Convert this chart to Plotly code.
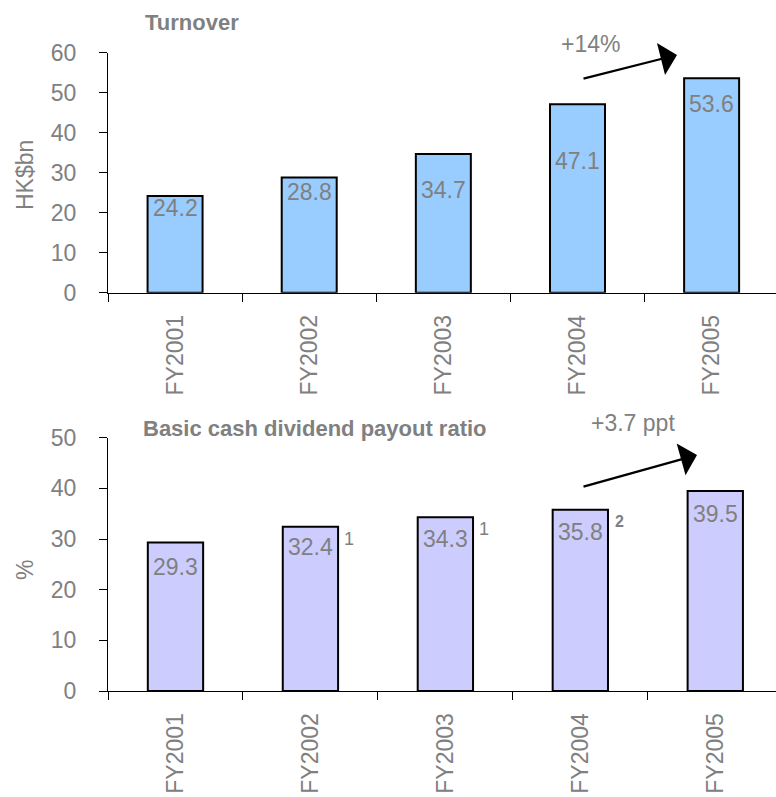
import plotly.graph_objects as go

categories = ["FY2001", "FY2002", "FY2003", "FY2004", "FY2005"]
turnover = [24.2, 28.8, 34.7, 47.1, 53.6]
payout = [29.3, 32.4, 34.3, 35.8, 39.5]
payout_notes = ["", "1", "1", "2", ""]
turnover_ticks = [0, 10, 20, 30, 40, 50, 60]
payout_ticks = [0, 10, 20, 30, 40, 50]

# label styling (pixel shifts below bar top)
turnover_label_shift = [12, 14, 36, 57, 26]
payout_label_shift = [24, 20, 22, 22, 23]

GRAY = "#808080"
FONT = "Arial, Liberation Sans, sans-serif"
W, H = 776, 797
L = 108

fig = go.Figure()
fig.add_trace(go.Bar(x=categories, y=turnover, xaxis="x", yaxis="y", width=0.41,
                     marker=dict(color="#99CCFF", line=dict(color="black", width=2)),
                     showlegend=False, hoverinfo="skip"))
fig.add_trace(go.Bar(x=categories, y=payout, xaxis="x2", yaxis="y2", width=0.41,
                     marker=dict(color="#CCCCFF", line=dict(color="black", width=2)),
                     showlegend=False, hoverinfo="skip"))

def py(px):
    return 1 - px / H

def pxx(px):
    return (px - L) / (W - L)

ann = []
for c, v, s in zip(categories, turnover, turnover_label_shift):
    ann.append(dict(x=c, y=v, xref="x", yref="y", text=f"{v:.1f}", showarrow=False,
                    xanchor="center", yanchor="middle", yshift=-s,
                    font=dict(size=23, color=GRAY, family=FONT)))
for c, v, s, n in zip(categories, payout, payout_label_shift, payout_notes):
    ann.append(dict(x=c, y=v, xref="x2", yref="y2", text=f"{v:.1f}", showarrow=False,
                    xanchor="center", yanchor="middle", yshift=-s,
                    font=dict(size=23, color=GRAY, family=FONT)))
    if n:
        bold = n == "2"
        txt = f"<b>{n}</b>" if bold else n
        ann.append(dict(x=c, y=v, xref="x2", yref="y2", text=txt, showarrow=False,
                        xanchor="center", yanchor="middle", xshift=39, yshift=-12,
                        font=dict(size=16 if bold else 18, color=GRAY, family=FONT)))

# titles
ann.append(dict(x=pxx(143), y=py(22), xref="paper", yref="paper", text="<b>Turnover</b>",
                showarrow=False, xanchor="left", yanchor="middle",
                font=dict(size=22, color=GRAY, family=FONT)))
ann.append(dict(x=pxx(141), y=py(429), xref="paper", yref="paper",
                text="<b>Basic cash dividend payout ratio</b>",
                showarrow=False, xanchor="left", yanchor="middle",
                font=dict(size=22, color=GRAY, family=FONT)))
# y titles
ann.append(dict(x=pxx(25), y=py(175), xref="paper", yref="paper", text="HK$bn",
                showarrow=False, textangle=-90, xanchor="center", yanchor="middle",
                font=dict(size=23, color=GRAY, family=FONT)))
ann.append(dict(x=pxx(25), y=py(570), xref="paper", yref="paper", text="%",
                showarrow=False, textangle=-90, xanchor="center", yanchor="middle",
                font=dict(size=23, color=GRAY, family=FONT)))
# growth notes
ann.append(dict(x=pxx(590), y=py(44), xref="paper", yref="paper", text="+14%",
                showarrow=False, xanchor="center", yanchor="middle",
                font=dict(size=23, color=GRAY, family=FONT)))
ann.append(dict(x=pxx(633), y=py(423), xref="paper", yref="paper", text="+3.7 ppt",
                showarrow=False, xanchor="center", yanchor="middle",
                font=dict(size=23, color=GRAY, family=FONT)))
# arrows
ann.append(dict(x=pxx(677), y=py(55), xref="paper", yref="paper", text="", showarrow=True,
                ax=582 - 677, ay=79 - 55, arrowhead=1, arrowsize=2.5, arrowwidth=2.2,
                arrowcolor="black"))
ann.append(dict(x=pxx(697), y=py(455), xref="paper", yref="paper", text="", showarrow=True,
                ax=582 - 697, ay=487 - 455, arrowhead=1, arrowsize=2.5, arrowwidth=2.2,
                arrowcolor="black"))

xcommon = dict(type="category", showline=True, linecolor="black", linewidth=1,
               ticks="outside", ticklen=8, tickcolor="black", tickson="boundaries",
               tickangle=-90, tickfont=dict(size=23, color=GRAY, family=FONT),
               showgrid=False, zeroline=False, ticklabelstandoff=12, automargin=False)
ycommon = dict(showline=True, linecolor="black", linewidth=1, ticks="outside", ticklen=8,
               tickcolor="black", tickfont=dict(size=23, color=GRAY, family=FONT),
               showgrid=False, zeroline=False, ticklabelstandoff=18, automargin=False)

fig.update_layout(
    template="none",
    width=W, height=H,
    margin=dict(l=L, r=0, t=0, b=0, autoexpand=False),
    paper_bgcolor="white", plot_bgcolor="white",
    xaxis=dict(xcommon, anchor="y", domain=[0, 1], range=[-0.5, 4.48]),
    yaxis=dict(ycommon, anchor="x", domain=[py(292.7), py(52.7)], range=[0, 60],
               tickvals=turnover_ticks),
    xaxis2=dict(xcommon, anchor="y2", domain=[0, 1], range=[-0.5, 4.45]),
    yaxis2=dict(ycommon, anchor="x2", domain=[py(691), py(437.7)], range=[0, 50],
                tickvals=payout_ticks),
    annotations=ann,
    bargap=0.59,
)

fig.write_html("out.html")
